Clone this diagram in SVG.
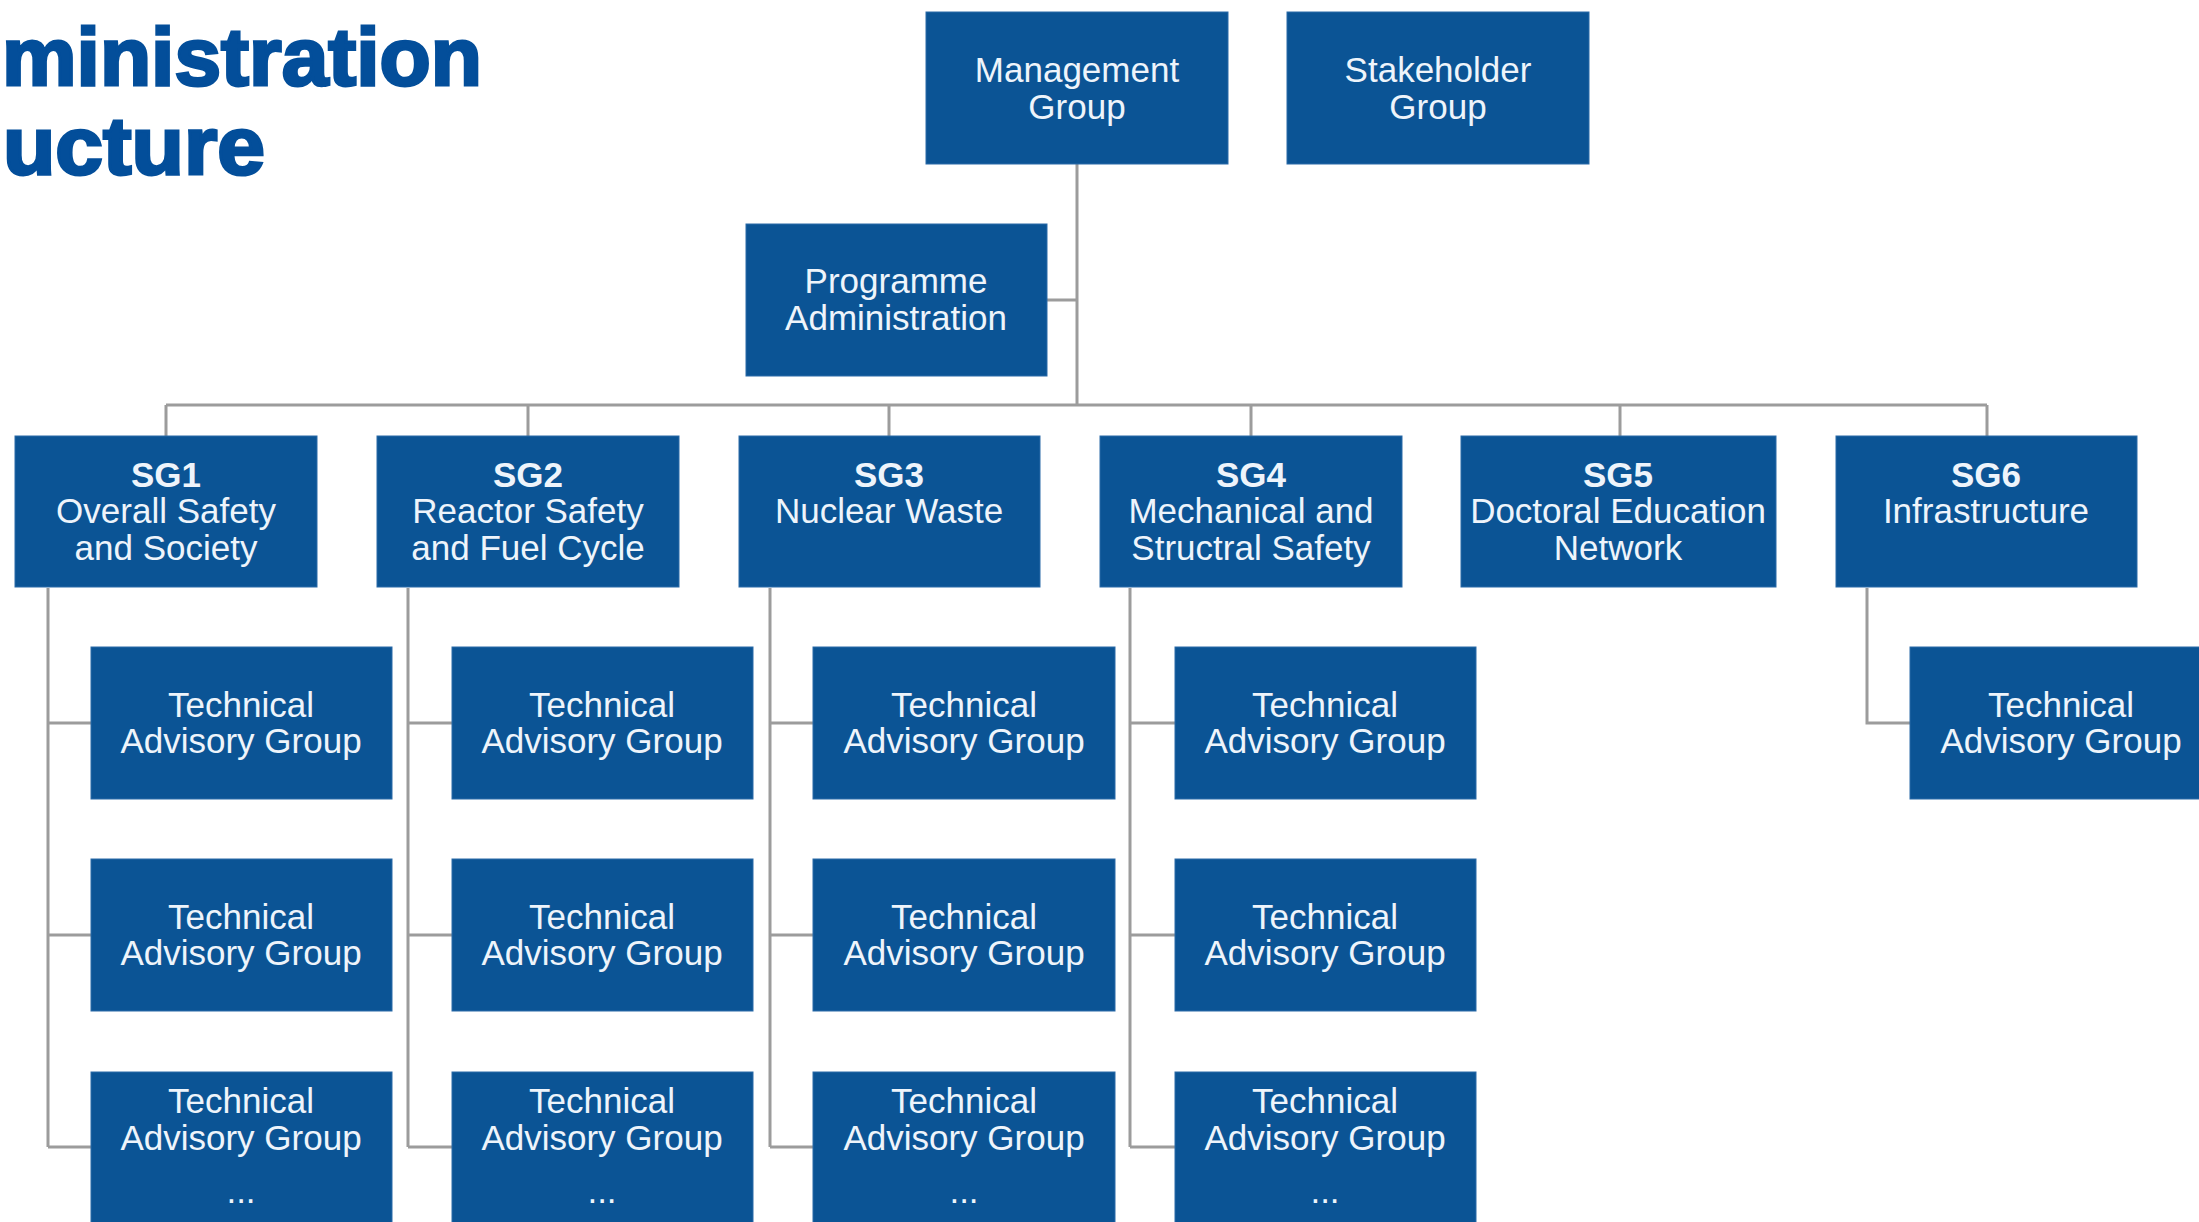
<svg xmlns="http://www.w3.org/2000/svg" width="2199" height="1222" viewBox="0 0 2199 1222">
<style>
.box{fill:#0b5495;stroke:#2a6aa8;stroke-width:1}
.t{font-family:"Liberation Sans",Arial,sans-serif;font-size:35px;fill:#eef4fb;text-anchor:middle}
.b{font-weight:bold}
.ln{stroke:#9c9c9c;stroke-width:3;fill:none}
.title{font-family:"Liberation Sans",Arial,sans-serif;font-weight:bold;font-size:82px;fill:#034e9a;stroke:#034e9a;stroke-width:3}
</style>
<rect width="2199" height="1222" fill="#ffffff"/>
<g id="title">
<text class="title" x="2" y="85" textLength="480" lengthAdjust="spacingAndGlyphs">ministration</text>
<text class="title" x="3" y="174" textLength="262" lengthAdjust="spacingAndGlyphs">ucture</text>
</g>
<g id="connectors">
<path class="ln" d="M1077,164 V405 M1047,300 H1077 M166,405 H1987 M166,405 V436 M528,405 V436 M889,405 V436 M1251,405 V436 M1620,405 V436 M1987,405 V436"/>
<path class="ln" d="M48,588 V1147 M48,723 H91 M48,935 H91 M48,1147 H91"/>
<path class="ln" d="M408,588 V1147 M408,723 H452 M408,935 H452 M408,1147 H452"/>
<path class="ln" d="M770,588 V1147 M770,723 H813 M770,935 H813 M770,1147 H813"/>
<path class="ln" d="M1130,588 V1147 M1130,723 H1175 M1130,935 H1175 M1130,1147 H1175"/>
<path class="ln" d="M1867,588 V723 H1910"/>
</g>
<g id="management"><rect class="box" x="926" y="12" width="302" height="152"/><text class="t" x="1077" y="82">Management</text><text class="t" x="1077" y="119">Group</text></g>
<g id="stakeholder"><rect class="box" x="1287" y="12" width="302" height="152"/><text class="t" x="1438" y="82">Stakeholder</text><text class="t" x="1438" y="119">Group</text></g>
<g id="programme"><rect class="box" x="746" y="224" width="301" height="152"/><text class="t" x="896" y="293">Programme</text><text class="t" x="896" y="330">Administration</text></g>
<g id="sg1"><rect class="box" x="15" y="436" width="302" height="151"/><text class="t b" x="166" y="487">SG1</text><text class="t" x="166" y="523">Overall Safety</text><text class="t" x="166" y="560">and Society</text></g>
<g id="sg2"><rect class="box" x="377" y="436" width="302" height="151"/><text class="t b" x="528" y="487">SG2</text><text class="t" x="528" y="523">Reactor Safety</text><text class="t" x="528" y="560">and Fuel Cycle</text></g>
<g id="sg3"><rect class="box" x="739" y="436" width="301" height="151"/><text class="t b" x="889" y="487">SG3</text><text class="t" x="889" y="523">Nuclear Waste</text></g>
<g id="sg4"><rect class="box" x="1100" y="436" width="302" height="151"/><text class="t b" x="1251" y="487">SG4</text><text class="t" x="1251" y="523">Mechanical and</text><text class="t" x="1251" y="560">Structral Safety</text></g>
<g id="sg5"><rect class="box" x="1461" y="436" width="315" height="151"/><text class="t b" x="1618" y="487">SG5</text><text class="t" x="1618" y="523">Doctoral Education</text><text class="t" x="1618" y="560">Network</text></g>
<g id="sg6"><rect class="box" x="1836" y="436" width="301" height="151"/><text class="t b" x="1986" y="487">SG6</text><text class="t" x="1986" y="523">Infrastructure</text></g>
<g id="tag1a"><rect class="box" x="91" y="647" width="301" height="152"/><text class="t" x="241" y="717">Technical</text><text class="t" x="241" y="753">Advisory Group</text></g>
<g id="tag1b"><rect class="box" x="91" y="859" width="301" height="152"/><text class="t" x="241" y="929">Technical</text><text class="t" x="241" y="965">Advisory Group</text></g>
<g id="tag1c"><rect class="box" x="91" y="1072" width="301" height="152"/><text class="t" x="241" y="1113">Technical</text><text class="t" x="241" y="1150">Advisory Group</text><text class="t" x="241" y="1203">...</text></g>
<g id="tag2a"><rect class="box" x="452" y="647" width="301" height="152"/><text class="t" x="602" y="717">Technical</text><text class="t" x="602" y="753">Advisory Group</text></g>
<g id="tag2b"><rect class="box" x="452" y="859" width="301" height="152"/><text class="t" x="602" y="929">Technical</text><text class="t" x="602" y="965">Advisory Group</text></g>
<g id="tag2c"><rect class="box" x="452" y="1072" width="301" height="152"/><text class="t" x="602" y="1113">Technical</text><text class="t" x="602" y="1150">Advisory Group</text><text class="t" x="602" y="1203">...</text></g>
<g id="tag3a"><rect class="box" x="813" y="647" width="302" height="152"/><text class="t" x="964" y="717">Technical</text><text class="t" x="964" y="753">Advisory Group</text></g>
<g id="tag3b"><rect class="box" x="813" y="859" width="302" height="152"/><text class="t" x="964" y="929">Technical</text><text class="t" x="964" y="965">Advisory Group</text></g>
<g id="tag3c"><rect class="box" x="813" y="1072" width="302" height="152"/><text class="t" x="964" y="1113">Technical</text><text class="t" x="964" y="1150">Advisory Group</text><text class="t" x="964" y="1203">...</text></g>
<g id="tag4a"><rect class="box" x="1175" y="647" width="301" height="152"/><text class="t" x="1325" y="717">Technical</text><text class="t" x="1325" y="753">Advisory Group</text></g>
<g id="tag4b"><rect class="box" x="1175" y="859" width="301" height="152"/><text class="t" x="1325" y="929">Technical</text><text class="t" x="1325" y="965">Advisory Group</text></g>
<g id="tag4c"><rect class="box" x="1175" y="1072" width="301" height="152"/><text class="t" x="1325" y="1113">Technical</text><text class="t" x="1325" y="1150">Advisory Group</text><text class="t" x="1325" y="1203">...</text></g>
<g id="tag6a"><rect class="box" x="1910" y="647" width="302" height="152"/><text class="t" x="2061" y="717">Technical</text><text class="t" x="2061" y="753">Advisory Group</text></g>
</svg>
